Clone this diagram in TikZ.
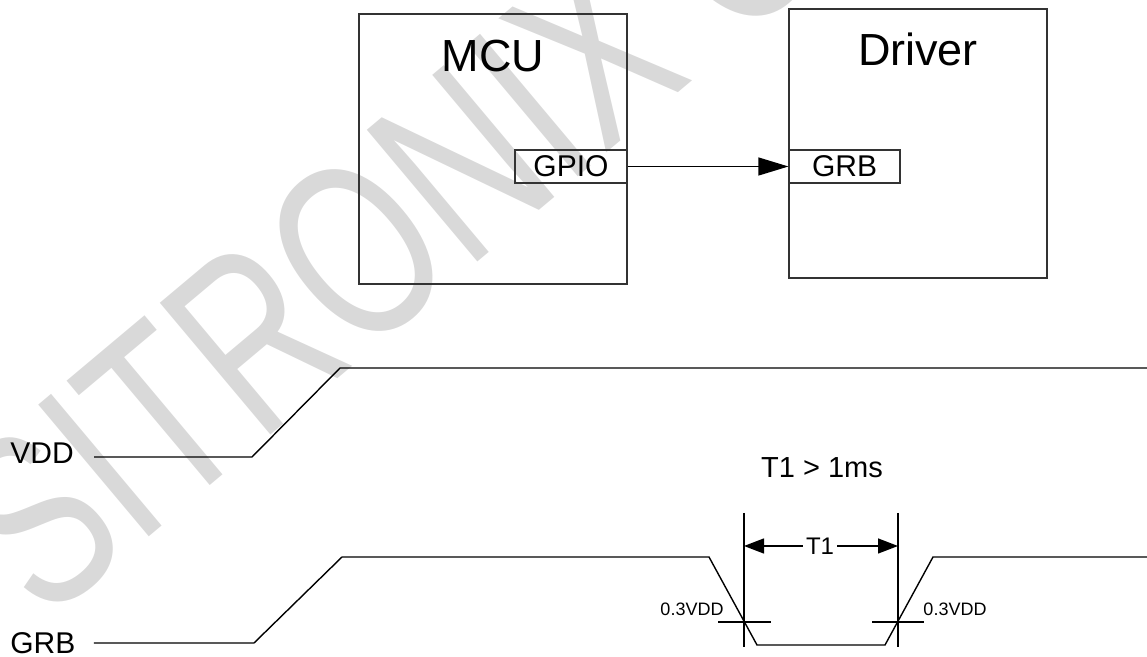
\documentclass[tikz,border=0pt]{standalone}
\usepackage{fontspec}
\setmainfont{Liberation Sans}
\usetikzlibrary{positioning,arrows.meta}

\begin{document}
\begin{tikzpicture}[x=0.5pt, y=-0.5pt,
    chip/.style={draw=black!80, line width=0.6pt, inner sep=0pt},
    title/.style={inner sep=0pt, font=\fontsize{22.5}{24}\selectfont},
    port/.style={draw=black!80, line width=0.6pt, inner sep=0pt, minimum height=16.5pt, font=\fontsize{15}{16}\selectfont},
    sig/.style={inner sep=0pt, font=\fontsize{15}{16}\selectfont},
    wave/.style={line width=0.7pt},
    small/.style={inner sep=0pt, font=\fontsize{9}{10}\selectfont}]
    \useasboundingbox (0,0) rectangle (1147,657);
    \begin{scope}
        \clip (0,0) rectangle (1147,657);
        \node[rotate=40, anchor=west, inner sep=0pt, text=black!15, font=\fontsize{125}{125}\selectfont] (mark) at (-11,559) {\scalebox{0.72}[1]{SITRONIX C}};
    \end{scope}
    \node[chip, minimum width=134pt, minimum height=135pt] (mcu) at (493,149) {};
    \node[chip, minimum width=129pt, minimum height=134.5pt] (drv) at (918,143.5) {};
    \node[title, below=13pt of mcu.north] (mcutitle) {MCU};
    \node[title, below=12pt of drv.north] (drvtitle) {Driver};
    \coordinate (pinrow) at (0,166.5);
    \node[port, minimum width=56pt, anchor=east] (gpio) at (mcu.east |- pinrow) {GPIO};
    \node[port, minimum width=55.5pt, anchor=west] (grb) at (drv.west |- pinrow) {GRB};
    \draw[line width=0.6pt, -{Triangle[length=15pt,width=9pt]}] (gpio) -- (grb);
    \node[sig, anchor=west] (vdd) at (10,453) {VDD};
    \node[sig, anchor=west] (grbsig) at (10,643) {GRB};
    \draw[wave] ([shift={(20,4)}]vdd.east) -- (252,457) -- (340,368) -- (1147,368);
    \draw[wave] ([shift={(18,0)}]grbsig.east) -- (254,643) -- (342,557) -- (709,557) -- (757,645) -- (885,645) -- (933,557) -- (1147,557);
    \node[inner sep=0pt, font=\fontsize{14.5}{16}\selectfont] (spec) at (822,468) {T1 > 1ms};
    \coordinate (m1) at (744,513);
    \coordinate (m2) at (898,513);
    \draw[wave] (m1) -- ++(0,134);
    \draw[wave] (m2) -- ++(0,134);
    \node[inner sep=1.5pt, font=\fontsize{12}{14}\selectfont] (t1) at (820,546) {T1};
    \draw[wave, -{Triangle[length=10pt,width=7.5pt]}] (t1) -- (m1 |- t1);
    \draw[wave, -{Triangle[length=10pt,width=7.5pt]}] (t1) -- (m2 |- t1);
    \draw[wave] (718,622) -- (771,622);
    \draw[wave] (872,622) -- (924,622);
    \node[small] (lo) at (692,609) {0.3VDD};
    \node[small] (hi) at (955,609) {0.3VDD};
\end{tikzpicture}
\end{document}
